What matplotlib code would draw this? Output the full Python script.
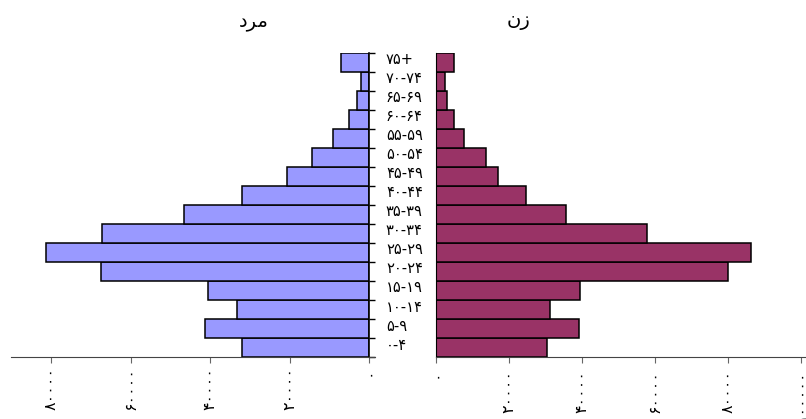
import matplotlib
matplotlib.use("Agg")
import matplotlib.pyplot as plt
import numpy as np

# age groups, bottom to top (visual order of the Persian strings)
age_labels = ["۰-۴", "۵-۹", "۱۰-۱۴", "۱۵-۱۹", "۲۰-۲۴", "۲۵-۲۹", "۳۰-۳۴", "۳۵-۳۹",
              "۴۰-۴۴", "۴۵-۴۹", "۵۰-۵۴", "۵۵-۵۹", "۶۰-۶۴", "۶۵-۶۹", "۷۰-۷۴", "۷۵+"]
male = [32050, 41400, 33250, 40450, 67400, 81400, 67250, 46700,
        32050, 20700, 14500, 9150, 5100, 3200, 2100, 7200]
female = [30250, 39100, 31150, 39300, 79800, 86100, 57700, 35450,
          24600, 16800, 13600, 7500, 4850, 2930, 2300, 4850]

male_ticks = [0, 20000, 40000, 60000, 80000]
male_tick_labels = ["۰", "۲۰۰۰۰", "۴۰۰۰۰", "۶۰۰۰۰", "۸۰۰۰۰"]
female_ticks = [0, 20000, 40000, 60000, 80000, 100000]
female_tick_labels = ["۰", "۲۰۰۰۰", "۴۰۰۰۰", "۶۰۰۰۰", "۸۰۰۰۰", "۱۰۰۰۰۰"]

# titles written in visual order with presentation forms (matplotlib does no shaping)
title_male = "\u062F\uFEAE\uFEE3"   # مرد
title_female = "\u0646\u0632"       # زن

MALE_COLOR = "#9999ff"
FEMALE_COLOR = "#993366"

W, H = 806, 419
fig = plt.figure(figsize=(W / 100, H / 100), dpi=100)

bottom = 1 - 357.3 / H
height = (357.3 - 52.7) / H
ax_l = fig.add_axes([11.3 / W, bottom, (369.3 - 11.3) / W, height])
ax_r = fig.add_axes([436.3 / W, bottom, (806 - 436.3) / W, height])

y = np.arange(len(age_labels))

ax_l.barh(y, male, height=1.0, color=MALE_COLOR, edgecolor="black", linewidth=1.1)
ax_r.barh(y, female, height=1.0, color=FEMALE_COLOR, edgecolor="black", linewidth=1.1)

ax_l.set_xlim(90000, 0)
ax_r.set_xlim(0, 101300)
for ax in (ax_l, ax_r):
    ax.set_ylim(-0.5, len(age_labels) - 0.5)
    ax.spines["top"].set_visible(False)
    ax.spines["bottom"].set_color("#444444")

# left panel: age labels on the right side, ticks at bar boundaries
ax_l.spines["left"].set_visible(False)
ax_l.spines["right"].set_color("black")
ax_l.spines["right"].set_linewidth(1.2)
ax_l.spines["bottom"].set_bounds(90000, -1450)
ax_l.yaxis.tick_right()
ax_l.set_yticks(y + 0.22)  # labels sit a little above the bar centres
ax_l.set_yticklabels(age_labels, fontsize=10.5)
ax_l.tick_params(axis="y", which="major", length=0, pad=12)
ax_l.set_yticks(np.arange(-0.5, len(age_labels)), minor=True)
ax_l.tick_params(axis="y", which="minor", length=4, width=1, color="black", direction="out")

ax_l.set_xticks(male_ticks)
ax_l.set_xticklabels(male_tick_labels, rotation=90, fontsize=11.5)
ax_l.tick_params(axis="x", length=4, color="#666666", pad=3)

ax_r.spines["right"].set_visible(False)
ax_r.spines["left"].set_color("black")
ax_r.set_yticks([])
ax_r.set_xticks(female_ticks)
ax_r.set_xticklabels(female_tick_labels, rotation=90, fontsize=11.5)
ax_r.tick_params(axis="x", length=4, color="#666666", pad=5)

fig.text(254 / W, 1 - 22 / H, title_male, ha="center", va="center", fontsize=14)
fig.text(518 / W, 1 - 21 / H, title_female, ha="center", va="center", fontsize=14)

fig.savefig("out.png", dpi=100)
